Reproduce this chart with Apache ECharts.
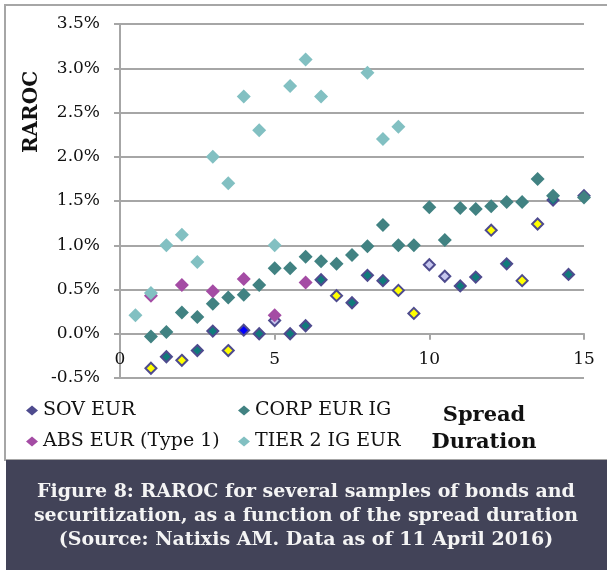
<!DOCTYPE html>
<html>
<head>
<meta charset="utf-8">
<script src="https://cdn.jsdelivr.net/npm/echarts@6/dist/echarts.min.js"></script>
<style>
  html, body { margin: 0; padding: 0; background: #fff; }
  #main { width: 607px; height: 570px; }
</style>
</head>
<body>
<div id="main"></div>
<script>
// RAROC vs spread duration, points as [duration, RAROC %]
var sovTeal = [[1.5,-0.26],[2.5,-0.19],[3,0.03],[4.5,0.0],[5.5,0.0],[6,0.09],[6.5,0.61],[7.5,0.35],
               [8,0.66],[8.5,0.60],[11,0.54],[11.5,0.64],[12.5,0.79],[14,1.51],[14.5,0.67],[15,1.56]];
var sovYellow = [[1,-0.39],[2,-0.30],[3.5,-0.19],[7,0.43],[9,0.49],[9.5,0.23],[12,1.17],[13,0.60],[13.5,1.24]];
var sovLavender = [[5,0.15],[10,0.78],[10.5,0.65]];
var sovBlue = [[4,0.04]];
var corp = [[1,-0.03],[1.5,0.02],[2,0.24],[2.5,0.19],[3,0.34],[3.5,0.41],[4,0.44],[4.5,0.55],[5,0.74],
            [5.5,0.74],[6,0.87],[6.5,0.82],[7,0.79],[7.5,0.89],[8,0.99],[8.5,1.23],[9,1.0],[9.5,1.0],
            [10,1.43],[10.5,1.06],[11,1.42],[11.5,1.41],[12,1.44],[12.5,1.49],[13,1.49],[13.5,1.75],
            [14,1.56],[15,1.54]];
var absT1 = [[1,0.43],[2,0.55],[3,0.48],[4,0.62],[5,0.21],[6,0.58]];
var tier2 = [[0.5,0.21],[1,0.46],[1.5,1.0],[2,1.12],[2.5,0.81],[3,2.0],[3.5,1.7],[4,2.68],[4.5,2.3],
             [5,1.0],[5.5,2.8],[6,3.1],[6.5,2.68],[8,2.95],[8.5,2.2],[9,2.34]];

var captionLines = ['Figure 8: RAROC for several samples of bonds and',
                    'securitization, as a function of the spread duration',
                    '(Source: Natixis AM. Data as of 11 April 2016)'];

var serif = 'DejaVu Serif';
var gridGray = '#a6a6a6';
var sovEdge = '#4e4b8e';

// plot height 354px over 8 steps of 0.5% -> x axis sits one step up, at 0%
var plotTop = 24, plotBottom = 192;
var stepPx = (570 - plotTop - plotBottom) / 8;

function sovSeries(data, fill) {
    return {
        name: 'SOV EUR',
        type: 'scatter',
        symbol: 'diamond',
        symbolSize: 11,
        itemStyle: { color: fill, borderColor: sovEdge, borderWidth: 2, opacity: 1 },
        data: data
    };
}

var myChart = echarts.init(document.getElementById('main'));

var option = {
    backgroundColor: '#fff',
    animation: false,
    textStyle: { fontFamily: serif },
    grid: { left: 120, right: 23, top: plotTop, bottom: plotBottom },
    xAxis: {
        type: 'value',
        min: 0, max: 15, interval: 5,
        offset: -stepPx,
        splitLine: { show: false },
        axisLine: { onZero: false, lineStyle: { color: gridGray, width: 2 } },
        axisTick: { show: true, length: 6, lineStyle: { color: gridGray, width: 2 } },
        axisLabel: { margin: 17, fontSize: 17, color: '#111', fontFamily: serif }
    },
    yAxis: {
        type: 'value',
        min: -0.5, max: 3.5, interval: 0.5,
        axisLine: { show: true, lineStyle: { color: gridGray, width: 2 } },
        axisTick: { show: true, length: 6, lineStyle: { color: gridGray, width: 2 } },
        splitLine: { show: true, lineStyle: { color: gridGray, width: 2 } },
        axisLabel: {
            margin: 20, fontSize: 17, color: '#111', fontFamily: serif,
            formatter: function (v) { return v.toFixed(1) + '%'; }
        }
    },
    legend: [
        {
            orient: 'vertical', left: 26, top: 400, padding: 0,
            icon: 'diamond', itemWidth: 12, itemHeight: 10, itemGap: 10, itemTextGap: 4,
            selectedMode: false,
            textStyle: { fontSize: 19, lineHeight: 21, color: '#111', fontFamily: serif },
            data: [
                { name: 'SOV EUR', itemStyle: { color: sovEdge, borderWidth: 0 } },
                { name: 'ABS EUR (Type 1)' }
            ]
        },
        {
            orient: 'vertical', left: 238, top: 400, padding: 0,
            icon: 'diamond', itemWidth: 12, itemHeight: 10, itemGap: 10, itemTextGap: 4,
            selectedMode: false,
            textStyle: { fontSize: 19, lineHeight: 21, color: '#111', fontFamily: serif },
            data: ['CORP EUR IG', 'TIER 2 IG EUR']
        }
    ],
    graphic: [
        {
            type: 'rect', z: -10, silent: true,
            shape: { x: 5, y: 5, width: 620, height: 455 },
            style: { fill: 'none', stroke: gridGray, lineWidth: 2 }
        },
        {
            type: 'rect', z: -10, silent: true,
            shape: { x: 6, y: 460, width: 601, height: 110 },
            style: { fill: '#424358' }
        },
        {
            type: 'text', silent: true,
            x: 306, y: 516,
            style: {
                text: captionLines.join('\n'),
                fill: '#f4f4f4', font: 'bold 19px "DejaVu Serif"',
                lineHeight: 24, align: 'center', verticalAlign: 'middle'
            }
        },
        {
            type: 'text', silent: true,
            x: 484, y: 429,
            style: {
                text: 'Spread\nDuration',
                fill: '#111', font: 'bold 21px "DejaVu Serif"',
                lineHeight: 27, align: 'center', verticalAlign: 'middle'
            }
        },
        {
            type: 'text', silent: true,
            x: 32, y: 112, rotation: Math.PI / 2,
            style: {
                text: 'RAROC',
                fill: '#111', font: 'bold 20px "DejaVu Serif"',
                align: 'center', verticalAlign: 'middle'
            }
        }
    ],
    series: [
        sovSeries(sovTeal, '#0f7b7b'),
        sovSeries(sovYellow, '#ffff00'),
        sovSeries(sovLavender, '#c6c6ee'),
        sovSeries(sovBlue, '#0000ff'),
        {
            name: 'CORP EUR IG', type: 'scatter', symbol: 'diamond', symbolSize: 14,
            itemStyle: { color: '#418282', opacity: 1 }, data: corp
        },
        {
            name: 'ABS EUR (Type 1)', type: 'scatter', symbol: 'diamond', symbolSize: 14,
            itemStyle: { color: '#a44ca4', opacity: 1 }, data: absT1
        },
        {
            name: 'TIER 2 IG EUR', type: 'scatter', symbol: 'diamond', symbolSize: 14,
            itemStyle: { color: '#82c0c2', opacity: 1 }, data: tier2
        }
    ]
};

myChart.setOption(option);
</script>
</body>
</html>
